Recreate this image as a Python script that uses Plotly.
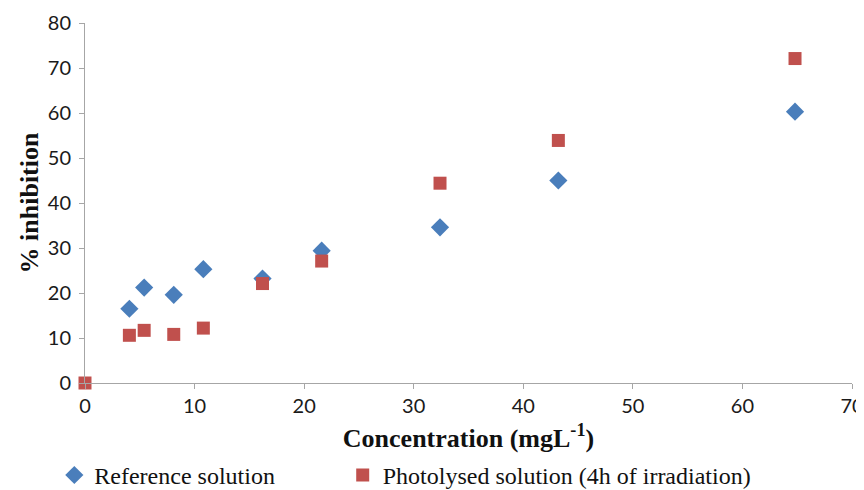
import plotly.graph_objects as go

# concentration (mg/L) and % inhibition
conc_ref = [4.05, 5.4, 8.1, 10.8, 16.2, 21.6, 32.4, 43.2, 64.8]
inhib_ref = [16.5, 21.2, 19.6, 25.3, 23.2, 29.4, 34.6, 45.0, 60.3]

conc_phot = [0, 4.05, 5.4, 8.1, 10.8, 16.2, 21.6, 32.4, 43.2, 64.8]
inhib_phot = [0, 10.6, 11.7, 10.8, 12.2, 22.1, 27.1, 44.4, 53.9, 72.1]

x_ticks = [0, 10, 20, 30, 40, 50, 60, 70]
y_ticks = [0, 10, 20, 30, 40, 50, 60, 70, 80]

fig = go.Figure()
fig.add_trace(go.Scatter(
    x=conc_ref, y=inhib_ref, mode="markers", name="Reference solution",
    marker=dict(symbol="diamond", size=14, color="#4A7EBB"),
    cliponaxis=False, legend="legend"))
fig.add_trace(go.Scatter(
    x=conc_phot, y=inhib_phot, mode="markers",
    name="Photolysed solution (4h of irradiation)",
    marker=dict(symbol="square", size=13, color="#C0504D"),
    cliponaxis=False, legend="legend2"))

axis_common = dict(
    showgrid=False, zeroline=False, showline=True, linecolor="#A6A6A6",
    linewidth=1, ticks="outside", tickcolor="#A6A6A6", ticklen=5,
    automargin=False,
    tickfont=dict(family="Lato", size=20, color="#1a1a1a"))

title_font = dict(family="Liberation Serif", size=26, color="#111")

fig.update_xaxes(
    range=[0, 70], tickvals=x_ticks,
    title=dict(text="<b>Concentration (mgL<sup>-1</sup>)</b>",
               font=title_font, standoff=18),
    **axis_common)
fig.update_yaxes(
    range=[0, 80], tickvals=y_ticks, ticklabelstandoff=4,
    title=dict(text="<b>% inhibition</b>", font=title_font, standoff=1),
    **axis_common)

legend_font = dict(family="Liberation Serif", size=24, color="#111")

# page body adds an 8px offset, so the figure is 8px smaller than the window
fig.update_layout(
    width=856, height=482,
    margin=dict(l=77, r=12, t=15, b=107),
    plot_bgcolor="white", paper_bgcolor="white",
    showlegend=True,
    legend=dict(orientation="h", x=-0.04, xanchor="left",
                y=0.077, yref="container",
                yanchor="top", font=legend_font, itemwidth=30),
    legend2=dict(orientation="h", x=0.336, xanchor="left",
                 y=0.077, yref="container",
                 yanchor="top", font=legend_font, itemwidth=30),
)

fig.write_html("out.html")
